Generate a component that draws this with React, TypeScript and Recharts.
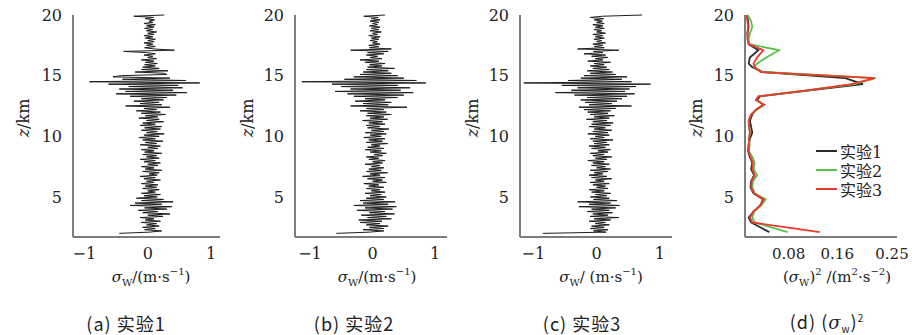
import React from 'react'
import { LineChart, Line, XAxis, YAxis } from 'recharts'

// sampling heights of the sigma_w profiles (km), bottom to top
const HEIGHTS = Array.from({ length: 181 }, (_, i) => Math.round((2 + i * 0.1) * 10) / 10)

// 实验1  sigma_w (m/s), one row per km starting at 2.0 km
const sigmaExp1 = [
  -0.45, 0.02, 0.22, -0.05, 0.12, -0.08, 0.18, -0.02, 0.14, -0.1,
  0.2, -0.04, 0.1, -0.12, 0.24, 0.0, 0.35, -0.08, 0.16, -0.15,
  0.3, -0.05, 0.38, -0.28, 0.22, -0.2, 0.4, -0.1, 0.25, -0.18,
  0.15, -0.06, 0.2, -0.1, 0.12, 0.0, 0.18, -0.08, 0.14, -0.04,
  0.16, -0.1, 0.1, -0.02, 0.2, -0.06, 0.12, -0.12, 0.15, 0.02,
  0.18, -0.08, 0.22, -0.04, 0.1, -0.1, 0.16, 0.0, 0.2, -0.06,
  0.12, -0.12, 0.18, -0.02, 0.14, -0.08, 0.22, -0.05, 0.1, -0.1,
  0.16, 0.0, 0.2, -0.12, 0.14, -0.04, 0.24, -0.08, 0.12, -0.14,
  0.18, -0.06, 0.26, -0.02, 0.15, -0.1, 0.2, -0.05, 0.22, -0.12,
  0.12, -0.08, 0.25, -0.02, 0.18, -0.14, 0.16, -0.04, 0.28, -0.1,
  0.2, -0.18, 0.14, -0.06, 0.35, -0.35, 0.22, -0.12, 0.18, -0.22,
  0.25, -0.1, 0.3, -0.28, 0.45, -0.5, 0.62, -0.35, 0.4, -0.45,
  0.55, -0.3, 0.48, -0.62, 0.82, -0.92, 0.6, -0.4, 0.35, -0.55,
  -0.42, 0.3, 0.25, -0.2, 0.32, -0.1, 0.18, -0.08, 0.12, -0.05,
  0.15, -0.04, 0.1, -0.1, 0.14, 0.0, 0.08, -0.06, 0.12, -0.02,
  -0.38, 0.42, 0.1, -0.05, 0.12, -0.02, 0.08, -0.06, 0.1, 0.0,
  0.12, -0.04, 0.08, -0.06, 0.1, 0.0, 0.14, -0.02, 0.08, -0.05,
  0.1, -0.02, 0.12, -0.06, 0.08, 0.02, 0.11, -0.04, 0.09, -0.22,
  0.26,
]

// 实验2
const sigmaExp2 = [
  -0.58, -0.05, 0.18, -0.15, 0.18, -0.05, 0.25, -0.1, 0.12, -0.2,
  0.15, -0.22, 0.3, -0.08, 0.22, -0.18, 0.35, -0.05, 0.2, -0.25,
  0.32, -0.12, 0.38, -0.3, 0.25, -0.15, 0.36, -0.2, 0.18, -0.1,
  0.22, -0.04, 0.14, -0.12, 0.2, -0.02, 0.12, -0.1, 0.18, -0.06,
  0.1, -0.14, 0.22, 0.0, 0.16, -0.08, 0.2, -0.16, 0.12, -0.04,
  0.24, -0.1, 0.14, -0.06, 0.18, -0.02, 0.12, -0.12, 0.16, 0.0,
  0.2, -0.06, 0.1, -0.1, 0.16, 0.02, 0.22, -0.04, 0.14, -0.12,
  0.18, -0.08, 0.12, -0.02, 0.24, -0.1, 0.16, -0.06, 0.2, -0.14,
  0.14, -0.04, 0.22, -0.12, 0.18, -0.02, 0.26, -0.08, 0.12, -0.1,
  0.2, -0.06, 0.16, -0.16, 0.24, -0.04, 0.18, -0.1, 0.3, -0.08,
  0.22, -0.2, 0.18, -0.1, 0.55, -0.35, 0.25, -0.15, 0.3, -0.28,
  0.2, -0.12, 0.4, -0.3, 0.5, -0.4, 0.65, -0.6, 0.45, -0.35,
  0.6, -0.5, 0.4, -0.65, 0.85, -1.13, 0.7, -0.45, 0.5, -0.3,
  0.4, -0.2, 0.3, -0.15, 0.25, -0.1, 0.35, -0.08, 0.15, -0.05,
  0.2, -0.12, 0.1, -0.2, 0.15, -0.04, 0.08, -0.1, 0.18, -0.08,
  0.25, -0.35, 0.3, -0.05, 0.1, -0.06, 0.12, 0.0, 0.08, -0.04,
  0.1, -0.02, 0.12, -0.06, 0.08, 0.0, 0.14, -0.04, 0.1, -0.02,
  0.12, -0.05, 0.08, 0.0, 0.1, -0.04, 0.12, -0.02, 0.09, -0.14,
  0.2,
]

// 实验3
const sigmaExp3 = [
  -0.85, 0.15, -0.05, 0.18, -0.1, 0.12, -0.08, 0.2, -0.02, 0.14,
  -0.12, 0.22, -0.04, 0.35, -0.1, 0.18, -0.06, 0.25, -0.15, 0.2,
  -0.08, 0.3, -0.28, 0.36, -0.12, 0.22, -0.3, 0.32, -0.05, 0.2,
  -0.1, 0.16, -0.02, 0.22, -0.08, 0.12, -0.12, 0.18, 0.0, 0.14,
  -0.06, 0.2, -0.1, 0.12, -0.02, 0.24, -0.08, 0.16, -0.12, 0.1,
  -0.04, 0.18, -0.1, 0.22, 0.0, 0.14, -0.08, 0.2, -0.06, 0.12,
  -0.14, 0.16, -0.02, 0.24, -0.06, 0.12, -0.1, 0.18, 0.02, 0.22,
  -0.08, 0.14, -0.12, 0.2, -0.04, 0.16, -0.06, 0.26, -0.1, 0.12,
  -0.02, 0.2, -0.14, 0.18, -0.06, 0.24, -0.04, 0.14, -0.12, 0.22,
  -0.08, 0.26, -0.06, 0.16, -0.16, 0.2, -0.04, 0.28, -0.1, 0.18,
  -0.14, 0.22, -0.2, 0.3, -0.28, 0.55, -0.12, 0.24, -0.18, 0.32,
  -0.25, 0.4, -0.15, 0.48, -0.35, 0.6, -0.65, 0.45, -0.4, 0.52,
  -0.3, 0.62, -0.55, 0.85, -1.15, 0.55, -0.45, 0.4, -0.25, 0.48,
  -0.2, 0.3, -0.1, 0.25, -0.15, 0.2, -0.06, 0.16, -0.1, 0.12,
  -0.04, 0.22, -0.14, 0.1, -0.02, 0.18, -0.08, 0.14, -0.2, 0.1,
  -0.05, 0.35, -0.3, 0.12, -0.04, 0.1, -0.06, 0.14, 0.0, 0.08,
  -0.04, 0.12, -0.02, 0.1, -0.06, 0.14, 0.0, 0.08, -0.04, 0.12,
  -0.02, 0.1, -0.06, 0.12, 0.0, 0.09, -0.04, 0.11, -0.1, 0.1,
  0.72,
]

// panel (d): (sigma_w)^2 profiles
const varLevels = [
  2.1, 2.9, 3.3, 3.8, 4.3, 4.8, 5.3, 5.8, 6.3, 6.8, 7.3, 7.8, 8.3, 8.8, 9.3, 9.8,
  10.3, 10.8, 11.3, 11.8, 12.2, 12.6, 13.0, 13.3, 13.8, 14.3, 14.8, 15.3, 15.7,
  16.0, 16.5, 17.1, 17.6, 18.0, 18.5, 19.0, 19.5, 20.0,
]
const varExp1 = [
  0.04, 0.01, 0.006, 0.014, 0.025, 0.03, 0.014, 0.009, 0.01, 0.015, 0.01, 0.012, 0.008, 0.005, 0.006, 0.008,
  0.012, 0.01, 0.008, 0.012, 0.018, 0.03, 0.02, 0.025, 0.11, 0.194, 0.165, 0.03, 0.012,
  0.006, 0.008, 0.022, 0.006, 0.005, 0.004, 0.006, 0.005, 0.004,
]
const varExp2 = [
  0.07, 0.016, 0.012, 0.015, 0.027, 0.034, 0.016, 0.012, 0.013, 0.02, 0.014, 0.016, 0.012, 0.006, 0.008, 0.006,
  0.008, 0.006, 0.006, 0.01, 0.02, 0.032, 0.018, 0.022, 0.105, 0.18, 0.215, 0.028, 0.015,
  0.02, 0.035, 0.056, 0.007, 0.006, 0.008, 0.012, 0.01, 0.004,
]
const varExp3 = [
  0.123, 0.012, 0.008, 0.014, 0.025, 0.031, 0.015, 0.01, 0.011, 0.016, 0.012, 0.013, 0.009, 0.006, 0.006, 0.007,
  0.008, 0.007, 0.006, 0.01, 0.018, 0.031, 0.018, 0.022, 0.105, 0.175, 0.213, 0.026, 0.016,
  0.014, 0.02, 0.03, 0.006, 0.004, 0.004, 0.005, 0.004, 0.002,
]

const zTicks = [5, 10, 15, 20]
const wTicks = [-1, 0, 1]
const varTicks = [0.08, 0.16, 0.25]
const expNames = ['实验1', '实验2', '实验3']
const expColors = ['#2b2b2b', '#56c24a', '#ee3a2e']

// only DejaVu Serif resolves by name in the sandbox
const SERIF = 'DejaVu Serif'
const SANS = 'Noto Sans CJK SC'
const AXIS = { stroke: '#7d7d7d', strokeWidth: 2 }

const minus = (v: number) => String(v).replace('-', '\u2212')

// tick text drawn with a css font-family so the serif face is really used
function SerifTick(props: any) {
  const { x, y, payload, textAnchor, verticalAnchor, size = 16, shift = 0 } = props
  return (
    <text
      x={x + shift} y={y} textAnchor={textAnchor}
      dy={verticalAnchor === 'start' ? '0.71em' : '0.355em'}
      style={{ fontFamily: SERIF, fontSize: size, fill: '#222' }}
    >
      {minus(payload.value)}
    </text>
  )
}

function Sub({ children }: { children: React.ReactNode }) {
  return <span style={{ fontSize: 10, position: 'relative', top: 4 }}>{children}</span>
}
function Sup({ children }: { children: React.ReactNode }) {
  return <span style={{ fontSize: 10, position: 'relative', top: -7 }}>{children}</span>
}

function Text({ x, y, children, font = SERIF, size = 15, spacing = 0 }: any) {
  return (
    <div
      style={{
        position: 'absolute', left: x, top: y, transform: 'translate(-50%, -50%)',
        fontFamily: font, fontSize: size, letterSpacing: spacing, lineHeight: '20px', color: '#222', whiteSpace: 'nowrap',
      }}
    >
      {children}
    </div>
  )
}

function ZLabel({ x }: { x: number }) {
  return (
    <div
      style={{
        position: 'absolute', left: x, top: 118, transform: 'translate(-50%, -50%) rotate(-90deg)',
        fontFamily: SERIF, fontSize: 16, lineHeight: '20px', color: '#222', whiteSpace: 'nowrap',
      }}
    >
      <i>z</i>/km
    </div>
  )
}

function Profile({ left, width, domain, values }: { left: number; width: number; domain: number[]; values: number[] }) {
  const data = HEIGHTS.map((z, i) => ({ z, w: values[i] }))
  return (
    <div style={{ position: 'absolute', left, top: 0 }}>
      <LineChart layout="vertical" width={width} height={290} data={data} margin={{ top: 15, right: 10, bottom: 0, left: 0 }}>
        <XAxis
          type="number" dataKey="w" domain={domain} ticks={wTicks} height={53}
          axisLine={AXIS} tickLine={false} tickSize={6} tickMargin={5} tick={<SerifTick />}
        />
        <YAxis
          type="number" dataKey="z" domain={[1.7, 20]} ticks={zTicks} width={73} reversed
          axisLine={AXIS} tickLine={false} tickSize={6} tickMargin={5} tick={<SerifTick />}
        />
        <Line dataKey="w" stroke="#1e1e1e" strokeWidth={1} dot={false} isAnimationActive={false} />
      </LineChart>
    </div>
  )
}

function VarianceProfile() {
  const data = varLevels.map((z, i) => ({ z, e1: varExp1[i], e2: varExp2[i], e3: varExp3[i] }))
  return (
    <div style={{ position: 'absolute', left: 672, top: 0 }}>
      <LineChart layout="vertical" width={240} height={290} data={data} margin={{ top: 15, right: 15, bottom: 0, left: 0 }}>
        <XAxis
          type="number" domain={[0, 0.25]} ticks={varTicks} height={53}
          axisLine={AXIS} tickLine={false} tickSize={6} tickMargin={5} tick={<SerifTick size={15} shift={-5} />}
        />
        <YAxis
          type="number" dataKey="z" domain={[1.7, 20]} ticks={zTicks} width={73} reversed
          axisLine={AXIS} tickLine={false} tickSize={6} tickMargin={5} tick={<SerifTick />}
        />
        {['e1', 'e2', 'e3'].map((k, i) => (
          <Line key={k} dataKey={k} stroke={expColors[i]} strokeWidth={1.8} dot={false} isAnimationActive={false} />
        ))}
      </LineChart>
      <div style={{ position: 'absolute', left: 144, top: 141, fontFamily: SERIF + ', ' + SANS, fontSize: 16, color: '#222' }}>
        {expNames.map((name, i) => (
          <div key={name} style={{ display: 'flex', alignItems: 'center', height: 19 }}>
            <span style={{ width: 21, height: 2, background: expColors[i], marginRight: 3 }} />
            {name}
          </div>
        ))}
      </div>
    </div>
  )
}

const sigmaTitle = (gap: boolean) => (
  <>
    <i>σ</i><Sub>W</Sub>/{gap ? ' ' : ''}(m·s<Sup>−1</Sup>)
  </>
)

export default function App() {
  return (
    <div style={{ position: 'absolute', left: 0, top: 0, width: 912, height: 335, background: '#fff', overflow: 'hidden' }}>
      <Profile left={0} width={230} domain={[-1.18, 1.14]} values={sigmaExp1} />
      <Profile left={222} width={235} domain={[-1.24, 1.19]} values={sigmaExp2} />
      <Profile left={447} width={235} domain={[-1.21, 1.19]} values={sigmaExp3} />
      <VarianceProfile />

      <ZLabel x={24} />
      <ZLabel x={248} />
      <ZLabel x={473} />
      <ZLabel x={697} />

      <Text x={151} y={278}>{sigmaTitle(false)}</Text>
      <Text x={377} y={278}>{sigmaTitle(false)}</Text>
      <Text x={601} y={278}>{sigmaTitle(true)}</Text>
      <Text x={837} y={278}>
        (<i>σ</i><Sub>W</Sub>)<Sup>2</Sup> /(m<Sup>2</Sup>·s<Sup>−2</Sup>)
      </Text>

      <Text x={126} y={323} font={SANS} size={18} spacing={1}>(a) 实验1</Text>
      <Text x={354} y={323} font={SANS} size={18} spacing={1}>(b) 实验2</Text>
      <Text x={582} y={323} font={SANS} size={18} spacing={1}>(c) 实验3</Text>
      <Text x={827} y={323} font={SANS} size={18} spacing={1}>
        (d) (<i style={{ fontFamily: SERIF }}>σ</i><Sub>w</Sub>)<Sup>2</Sup>
      </Text>
    </div>
  )
}
